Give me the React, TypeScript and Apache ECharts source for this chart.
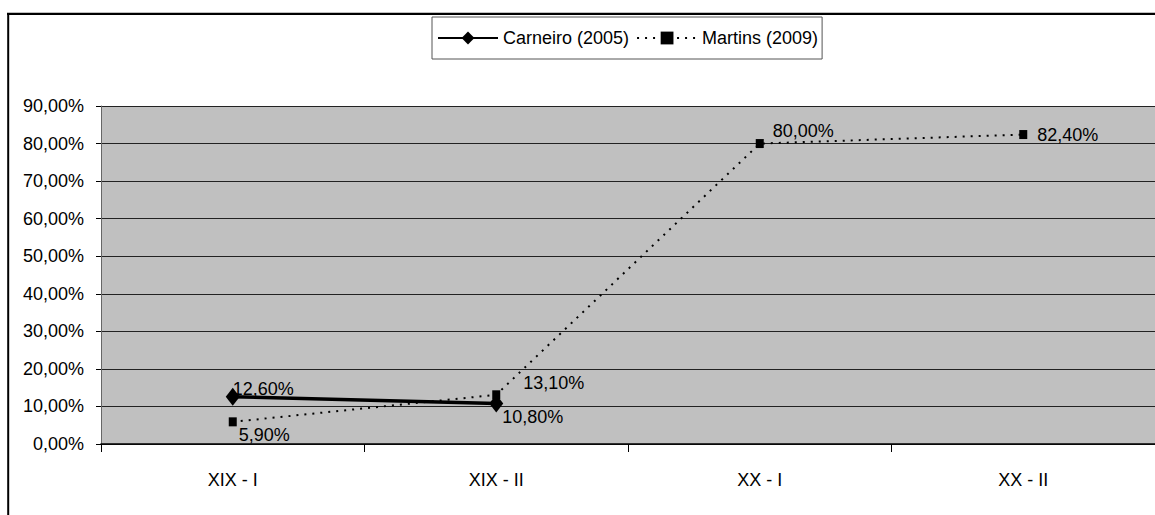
import React, { useEffect, useRef } from "react";
import * as echarts from "echarts";

const categories = ["XIX - I", "XIX - II", "XX - I", "XX - II"];
const carneiro = [12.6, 10.8, null, null];
const martins = [5.9, 13.1, 80.0, 82.4];
const carneiroName = "Carneiro (2005)";
const martinsName = "Martins (2009)";
const carneiroOffsets = [[-12, -8], [-6, 14]];
const martinsOffsets = [[-3, 13], [18, -12], [4, -13], [5, 0]];

const fmt = (v: number) => v.toFixed(2).replace(".", ",") + "%";
const FONT = "'Liberation Sans', Arial, sans-serif";

export default function App() {
  const ref = useRef<HTMLDivElement>(null);
  useEffect(() => {
    if (!ref.current) return;
    const chart = echarts.init(ref.current, null, { renderer: "svg" });
    const labelBase = {
      show: true,
      position: "right",
      fontSize: 18,
      fontFamily: FONT,
      color: "#000",
      formatter: (p: any) => fmt(p.value),
    };
    chart.setOption({
      animation: false,
      backgroundColor: "#fff",
      textStyle: { fontFamily: FONT },
      graphic: [
        { type: "line", shape: { x1: 7, y1: 13.8, x2: 1155, y2: 13.8 }, style: { stroke: "#000", lineWidth: 2.2 } },
        { type: "line", shape: { x1: 8.2, y1: 13, x2: 8.2, y2: 515 }, style: { stroke: "#000", lineWidth: 2 } },
      ],
      legend: {
        left: 432,
        top: 17,
        orient: "horizontal",
        padding: [12, 4, 12, 5],
        itemWidth: 60,
        itemHeight: 16,
        itemGap: 7,
        borderColor: "#555",
        borderWidth: 1,
        backgroundColor: "#fff",
        textStyle: { fontSize: 18, color: "#000", fontFamily: FONT },
        data: [carneiroName, martinsName],
      },
      grid: {
        left: 101,
        right: 0,
        top: 106,
        bottom: 71,
        show: true,
        backgroundColor: "#c0c0c0",
        borderWidth: 0,
      },
      xAxis: {
        type: "category",
        data: categories,
        boundaryGap: true,
        axisLine: { show: true, lineStyle: { color: "#000", width: 1.5 } },
        axisTick: { show: true, length: 8, alignWithLabel: false, lineStyle: { color: "#000" } },
        axisLabel: { fontSize: 18, color: "#000", margin: 27, fontFamily: FONT },
        splitLine: { show: false },
      },
      yAxis: {
        type: "value",
        min: 0,
        max: 90,
        interval: 10,
        axisLine: { show: true, lineStyle: { color: "#666", width: 1 } },
        axisTick: { show: true, length: 5, lineStyle: { color: "#000" } },
        axisLabel: { fontSize: 18, color: "#000", margin: 17, fontFamily: FONT, formatter: (v: number) => fmt(v) },
        splitLine: { show: true, lineStyle: { color: "#222", width: 1 } },
      },
      series: [
        {
          name: carneiroName,
          type: "line",
          data: carneiro.map((v, i) =>
            v == null ? null : { value: v, label: { ...labelBase, offset: carneiroOffsets[i] } }
          ),
          symbol: "diamond",
          symbolSize: [14, 18],
          showAllSymbol: true,
          itemStyle: { color: "#000" },
          lineStyle: { color: "#000", width: 3.5 },
          label: labelBase,
          z: 3,
        },
        {
          name: martinsName,
          type: "line",
          data: martins.map((v, i) => ({ value: v, label: { ...labelBase, offset: martinsOffsets[i] } })),
          symbol: "rect",
          symbolSize: [8, 9],
          showAllSymbol: true,
          itemStyle: { color: "#000" },
          lineStyle: { color: "#000", width: 2, type: [2, 6] },
          label: labelBase,
          z: 2,
        },
      ],
    });
    return () => chart.dispose();
  }, []);
  return (
    <div
      ref={ref}
      style={{ position: "absolute", left: 0, top: 0, width: 1155, height: 515 }}
    />
  );
}
